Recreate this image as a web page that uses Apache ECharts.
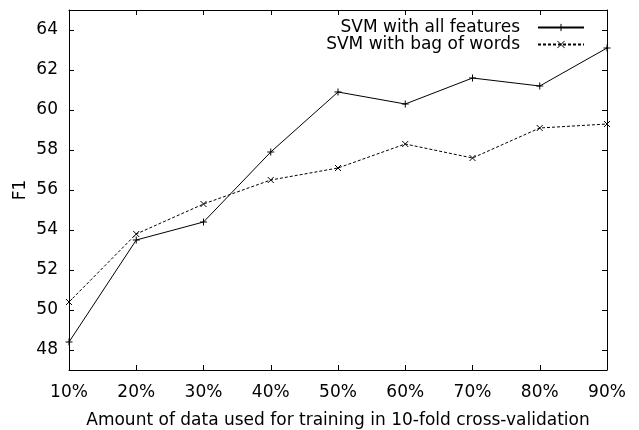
<!DOCTYPE html>
<html><head><meta charset="utf-8">
<script src="https://cdn.jsdelivr.net/npm/echarts@6/dist/echarts.min.js"></script>
<style>html,body{margin:0;padding:0;background:#fff}#c{width:639px;height:430px}</style>
</head><body><div id="c"></div>
<script>
const categories = ['10%','20%','30%','40%','50%','60%','70%','80%','90%'];
const allFeatures = [48.4, 53.5, 54.4, 57.9, 60.9, 60.3, 61.6, 61.2, 63.1];
const bagOfWords = [50.4, 53.8, 55.3, 56.5, 57.1, 58.3, 57.6, 59.1, 59.3];
const yTicks = [48, 50, 52, 54, 56, 58, 60, 62, 64];
const seriesNames = ['SVM with all features', 'SVM with bag of words'];

const FONT = 'DejaVu Sans';
const FS = 17;
const plus = 'path://M0,5L10,5M5,0L5,10';
const cross = 'path://M0,0L10,10M10,0L0,10';
const tickStyle = {show: true, inside: true, length: 5, lineStyle: {color: '#000', width: 1}};

const chart = echarts.init(document.getElementById('c'), null, {renderer: 'canvas'});
chart.setOption({
  animation: false,
  backgroundColor: '#fff',
  textStyle: {fontFamily: FONT},
  grid: {left: 69, right: 32, top: 10, bottom: 60, containLabel: false, outerBoundsMode: 'none'},
  legend: {
    orient: 'vertical', right: 49, top: 14, align: 'right',
    itemWidth: 46, itemHeight: 9, itemGap: 0,
    itemStyle: {borderWidth: 1},
    textStyle: {fontFamily: FONT, fontSize: FS, color: '#000', padding: [0, 13, 0, 0]},
    data: seriesNames
  },
  xAxis: [{
    type: 'category', data: categories, boundaryGap: false,
    name: 'Amount of data used for training in 10-fold cross-validation',
    nameLocation: 'middle', nameGap: 42, nameMoveOverlap: false,
    nameTextStyle: {fontFamily: FONT, fontSize: FS, color: '#000'},
    axisLine: {show: true, lineStyle: {color: '#000', width: 1}},
    axisTick: tickStyle,
    axisLabel: {fontFamily: FONT, fontSize: FS, color: '#000', margin: 14},
    splitLine: {show: false}
  }, {
    type: 'category', data: categories, boundaryGap: false, position: 'top',
    axisLine: {show: true, lineStyle: {color: '#000', width: 1}},
    axisTick: tickStyle, axisLabel: {show: false}, splitLine: {show: false}
  }],
  yAxis: [{
    type: 'value', min: 47, max: 65,
    name: 'F1', nameLocation: 'middle', nameGap: 40, nameRotate: 90, nameMoveOverlap: false,
    nameTextStyle: {fontFamily: FONT, fontSize: FS, color: '#000'},
    axisLine: {show: true, lineStyle: {color: '#000', width: 1}},
    axisTick: Object.assign({customValues: yTicks}, tickStyle),
    axisLabel: {fontFamily: FONT, fontSize: FS, color: '#000', margin: 11, customValues: yTicks},
    splitLine: {show: false}
  }, {
    type: 'value', min: 47, max: 65, position: 'right',
    axisLine: {show: true, lineStyle: {color: '#000', width: 1}},
    axisTick: Object.assign({customValues: yTicks}, tickStyle),
    axisLabel: {show: false, customValues: yTicks},
    splitLine: {show: false}
  }],
  series: [{
    name: seriesNames[0], type: 'line', data: allFeatures,
    symbol: plus, symbolSize: 7, showAllSymbol: true,
    lineStyle: {color: '#000', width: 1, type: 'solid'},
    itemStyle: {color: 'rgba(0,0,0,0)', borderColor: '#000', borderWidth: 1}
  }, {
    name: seriesNames[1], type: 'line', data: bagOfWords,
    symbol: cross, symbolSize: 6, showAllSymbol: true,
    lineStyle: {color: '#000', width: 1, type: [3, 2]},
    itemStyle: {color: 'rgba(0,0,0,0)', borderColor: '#000', borderWidth: 1}
  }]
});
</script></body></html>
